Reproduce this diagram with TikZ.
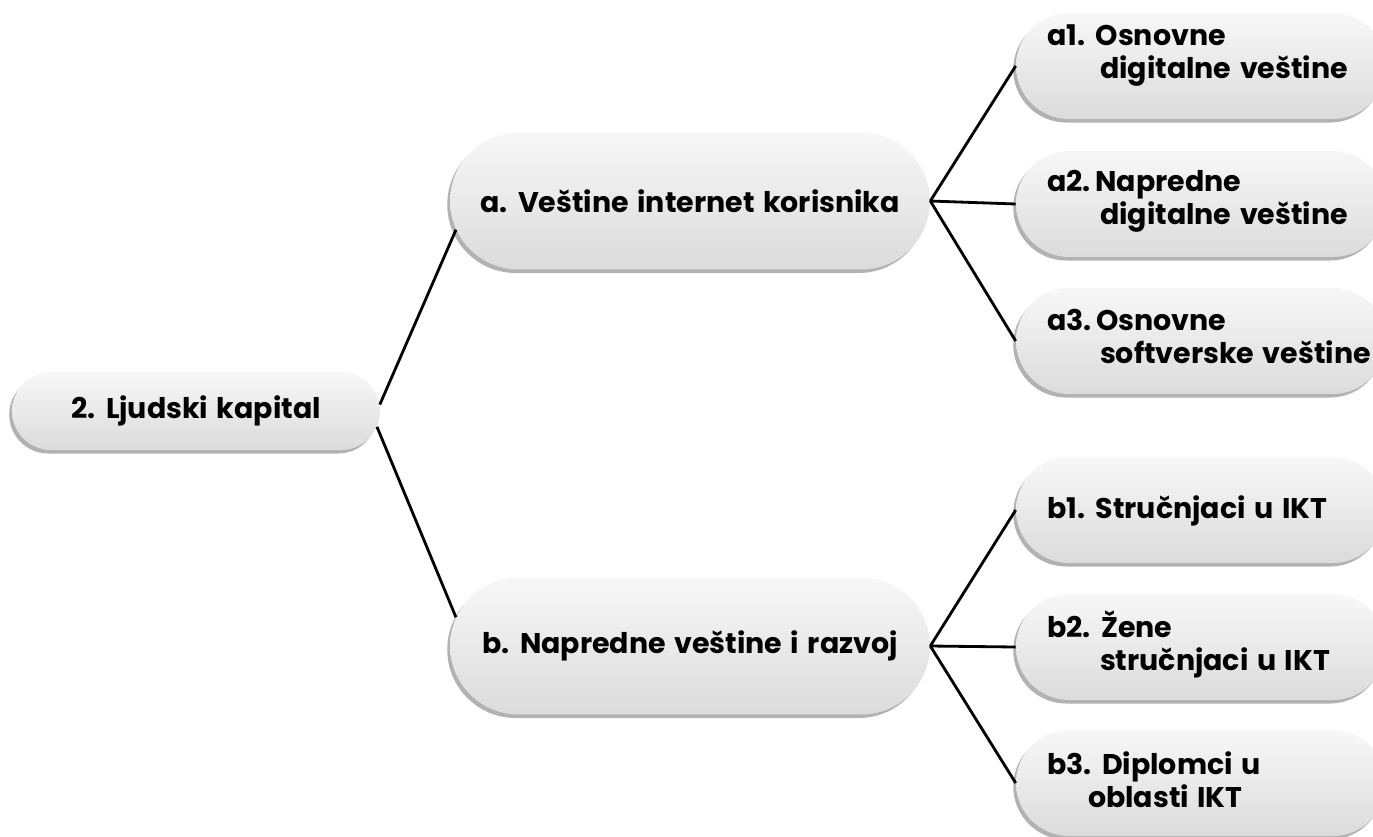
\documentclass[tikz,border=0pt]{standalone}
\usepackage{fontspec}
\setmainfont{Poppins}
\usetikzlibrary{shapes.misc, shadows, calc}
\newcommand\boxfont{\bfseries\fontsize{16.2}{18.8}\selectfont\spaceskip 0.3em\relax}
\tikzset{
    pill/.style={rounded rectangle, draw=none, inner sep=0pt,
        top color=black!3, bottom color=black!14,
        drop shadow={shadow xshift=-1.6pt, shadow yshift=-2pt, fill=black!30, opacity=1}}, % osnovni oblik
    root box/.style={pill, minimum width=7.36cm, minimum height=1.56cm},
    mid box/.style={pill, minimum width=9.6cm, minimum height=2.74cm},
    leaf box/.style={pill, minimum width=7.4cm, minimum height=2.12cm},
    box text/.style={font=\boxfont},
    leaf text/.style={box text, inner sep=0pt, align=left, anchor=west},
    link/.style={line width=1.6pt, black}
}

\begin{document}
\begin{tikzpicture}[x=0.02cm, y=-0.02cm]
    \useasboundingbox (0,0) rectangle (1373,836);
    \clip (0,0) rectangle (1373,836);
    \def\ind{1.06cm}

    % glavni cvor i dva podcvora
    \node[root box, box text] (root) at (196,411) {2. Ljudski kapital};
    \node[mid box, box text] (a) at (690,201) {a. Veštine internet korisnika};
    \node[mid box, box text] (b) at (690,646) {b. Napredne veštine i razvoj};

    % listovi
    \node[leaf box] (a1) at (1201,66) {};
    \node[leaf box] (a2) at (1201,204) {};
    \node[leaf box] (a3) at (1201,341) {};
    \node[leaf box] (b1) at (1201,510) {};
    \node[leaf box] (b2) at (1201,647) {};
    \node[leaf box] (b3) at (1201,783) {};

    \node[leaf text] (a1t) at ($(a1.west)+(31,-10)$) {a1. Osnovne\\\hspace*{\ind}digitalne veštine};
    \node[leaf text] (a2t) at ($(a2.west)+(31,-3)$) {a2.\,Napredne\\\hspace*{\ind}digitalne veštine};
    \node[leaf text] (a3t) at ($(a3.west)+(31,-5)$) {a3.\,Osnovne\\\hspace*{\ind}softverske veštine};
    \node[leaf text] (b1t) at ($(b1.west)+(31,1)$) {b1. Stručnjaci u IKT};
    \node[leaf text] (b2t) at ($(b2.west)+(31,-3)$) {b2. Žene\\\hspace*{\ind}stručnjaci u IKT};
    \node[leaf text] (b3t) at ($(b3.west)+(31,-3)$) {b3. Diplomci u\\\hspace*{0.82cm}oblasti IKT};

    % veze
    \draw[link] (root.2) -- (a.187);
    \draw[link] (root.-5) -- (b.173);
    \foreach \i in {1,2,3} {\draw[link] (a.east) -- (a\i.west);}
    \foreach \i in {1,2,3} {\draw[link] (b.east) -- (b\i.west);}
\end{tikzpicture}
\end{document}
